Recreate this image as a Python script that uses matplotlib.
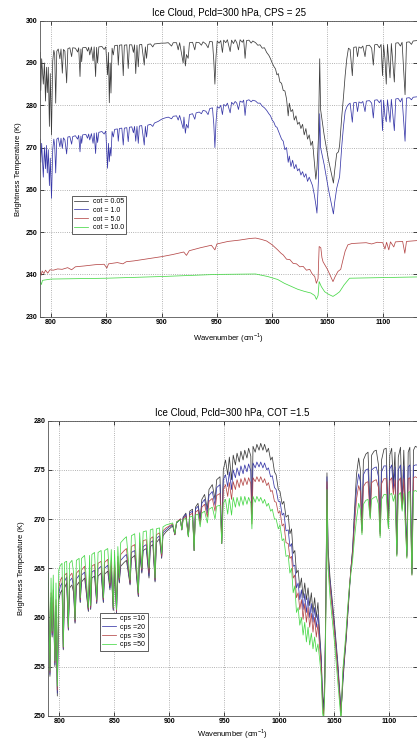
import matplotlib
matplotlib.use("Agg")
import matplotlib.pyplot as plt

# ---- top panel: ice cloud, CPS = 25, four optical thicknesses ----
# wavenumbers shared by the cot = 0.05 and cot = 1.0 curves
wn_thin = [
    790.0, 790.7, 791.5, 793.0, 794.0, 795.0, 795.8, 796.6, 797.5, 798.5,
    799.3, 800.4, 801.5, 802.5, 803.3, 804.2, 805.2, 806.5, 808.0, 809.0,
    810.2, 811.2, 812.5, 814.1, 815.2, 817.0, 818.6, 819.6, 822.0, 824.0,
    825.0, 826.2, 827.0, 827.7, 828.6, 831.5, 833.0, 834.0, 835.0, 836.5,
    838.0, 839.0, 840.3, 841.2, 842.1, 843.2, 846.0, 848.0, 849.5, 851.1,
    851.9, 852.7, 853.5, 854.2, 855.2, 856.3, 857.5, 860.0, 860.8, 861.8,
    864.0, 865.3, 866.3, 868.5, 869.8, 870.9, 873.0, 874.5, 875.5, 876.6,
    877.7, 878.9, 879.9, 882.0, 884.3, 885.3, 886.4, 887.5, 890.0, 892.0,
    893.5, 897.0, 900.0, 903.0, 906.0, 909.0, 910.5, 913.5, 915.0, 916.3,
    919.5, 920.2, 921.5, 922.5, 924.0, 925.2, 928.0, 930.0, 931.2, 934.0,
    936.0, 937.5, 940.0, 942.0, 943.5, 946.0, 947.2, 948.2, 949.2, 950.3,
    952.0, 953.5, 955.0, 956.2, 958.0, 959.5, 962.0, 963.3, 965.0, 966.5,
    968.0, 969.5, 971.0, 973.0, 974.2, 975.5, 976.8, 979.0, 981.0, 982.5,
    985.0, 987.0, 989.0, 991.0, 993.0, 995.0, 997.0, 998.5, 1000.0, 1001.5,
    1003.0, 1004.3, 1005.5, 1007.0, 1008.5, 1010.0, 1011.5, 1013.0, 1014.5, 1015.5,
    1017.0, 1018.5, 1020.0, 1021.5, 1023.0, 1024.5, 1026.0, 1027.5, 1029.0, 1030.5,
    1032.0, 1033.5, 1035.0, 1036.5, 1038.0, 1039.5, 1040.5, 1041.8, 1043.0, 1043.8,
    1047.0, 1051.0, 1055.4, 1056.5, 1058.4, 1060.0, 1061.0, 1063.0, 1064.5, 1066.0,
    1067.5, 1069.0, 1070.5, 1072.5, 1073.8, 1076.0, 1077.2, 1078.5, 1080.5, 1082.0,
    1084.0, 1085.2, 1088.0, 1090.0, 1091.5, 1092.7, 1095.0, 1097.0, 1098.5, 1099.8,
    1100.8, 1102.0, 1103.2, 1104.3, 1106.6, 1107.8, 1110.5, 1111.8, 1114.0, 1116.0,
    1117.5, 1120.2, 1121.5, 1124.0, 1126.0, 1127.5, 1131.0,
]
bt_cot005 = [
    292.5, 283.5, 291.0, 285.0, 290.0, 281.0, 289.0, 283.0, 289.0, 275.0,
    287.5, 273.0, 290.5, 293.0, 292.0, 280.5, 292.8, 293.3, 291.0, 293.3,
    287.6, 293.2, 292.8, 285.3, 293.4, 293.6, 291.5, 293.6, 293.5, 292.6,
    293.6, 286.8, 293.3, 290.3, 293.6, 293.7, 292.8, 293.7, 291.9, 293.8,
    290.5, 293.8, 286.8, 293.7, 290.0, 293.8, 293.9, 293.2, 293.8, 287.2,
    292.5, 280.6, 290.0, 282.9, 293.5, 291.9, 294.1, 294.2, 289.5, 294.2,
    294.3, 287.0, 294.2, 294.3, 288.7, 294.3, 294.3, 292.5, 294.3, 287.5,
    294.2, 289.1, 294.3, 294.4, 289.5, 293.8, 291.1, 294.4, 294.5, 293.8,
    294.5, 294.6, 294.7, 294.7, 294.8, 294.0, 294.8, 294.8, 293.1, 294.8,
    290.0, 294.0, 289.3, 292.0, 291.1, 294.8, 294.9, 293.1, 294.9, 294.8,
    294.2, 295.0, 294.5, 293.6, 295.1, 295.0, 290.5, 285.0, 291.5, 295.2,
    294.7, 295.3, 292.5, 295.4, 294.8, 295.5, 292.7, 295.4, 294.6, 295.5,
    294.8, 293.1, 295.5, 294.9, 295.5, 291.1, 295.3, 295.4, 294.7, 295.2,
    294.8, 294.2, 294.3, 293.5, 293.6, 292.5, 291.8, 291.0, 290.0, 289.2,
    288.6, 287.2, 287.5, 285.5, 285.2, 283.5, 283.4, 281.5, 277.5, 280.5,
    278.5, 279.0, 276.5, 277.5, 275.5, 276.0, 274.5, 275.5, 273.0, 274.5,
    272.0, 273.0, 270.5, 271.5, 267.0, 262.5, 265.0, 272.0, 291.0, 279.0,
    273.0, 267.0, 261.6, 264.5, 268.6, 269.0, 270.5, 277.5, 282.0, 287.0,
    291.0, 293.5, 293.2, 287.0, 293.7, 293.8, 291.5, 293.8, 293.5, 294.0,
    291.5, 294.1, 294.2, 293.5, 289.5, 294.3, 294.4, 293.6, 294.4, 287.0,
    294.3, 291.0, 285.0, 294.4, 286.5, 294.6, 285.5, 294.7, 294.8, 294.0,
    294.9, 282.5, 294.9, 295.0, 294.4, 295.2, 295.3,
]
bt_cot1 = [
    272.0, 266.5, 271.0, 263.0, 270.0, 265.0, 270.5, 264.0, 269.5, 261.0,
    267.5, 258.0, 269.5, 272.0, 270.5, 264.0, 272.0, 272.3, 270.2, 272.2,
    269.8, 272.3, 271.8, 268.5, 272.5, 272.6, 270.8, 272.6, 272.8, 272.0,
    272.9, 269.0, 272.7, 271.0, 273.0, 273.1, 272.2, 273.2, 271.8, 273.3,
    271.0, 273.4, 268.6, 273.5, 271.2, 273.6, 273.8, 273.2, 273.9, 265.1,
    271.0, 266.7, 270.0, 268.0, 273.8, 272.5, 274.3, 274.4, 271.5, 274.5,
    274.6, 270.6, 274.6, 274.7, 271.4, 274.8, 274.9, 273.5, 275.0, 271.5,
    275.0, 271.0, 275.1, 275.2, 270.6, 275.0, 272.5, 275.3, 275.5, 275.0,
    275.8, 276.2, 276.7, 277.0, 277.2, 276.8, 277.4, 277.5, 276.5, 277.6,
    274.5, 277.2, 273.4, 275.5, 274.6, 277.8, 278.0, 276.7, 278.2, 278.4,
    278.0, 278.8, 278.6, 277.8, 279.2, 279.4, 275.5, 270.0, 276.0, 279.7,
    279.3, 280.0, 277.8, 280.2, 279.8, 280.5, 278.2, 280.7, 280.2, 280.9,
    280.5, 279.0, 281.0, 280.7, 281.2, 277.6, 281.1, 281.3, 280.8, 281.2,
    281.0, 280.5, 280.5, 279.8, 279.4, 278.8, 278.0, 277.5, 276.5, 276.0,
    275.0, 274.8, 274.0, 273.0, 272.0, 271.5, 269.5, 270.0, 266.5, 268.0,
    265.5, 267.0, 265.0, 266.0, 264.5, 265.0, 263.5, 264.3, 263.0, 263.8,
    262.0, 263.0, 262.0, 261.0, 259.0, 256.5, 254.5, 262.0, 278.0, 270.0,
    266.0, 260.0, 254.3, 257.0, 260.4, 262.0, 263.1, 270.5, 275.0, 278.5,
    279.6, 280.2, 280.5, 276.0, 280.6, 280.7, 278.5, 280.8, 280.5, 280.9,
    278.5, 281.0, 281.1, 280.5, 277.0, 281.2, 281.3, 280.6, 281.3, 274.0,
    281.2, 277.5, 276.1, 281.3, 276.0, 281.4, 274.0, 281.5, 281.6, 280.8,
    281.7, 271.5, 281.7, 281.8, 281.3, 281.9, 282.0,
]

wn_cot5 = [
    790.0, 791.0, 792.0, 793.5, 795.0, 797.0, 799.0, 802.0, 806.0, 810.0,
    815.0, 818.6, 822.0, 830.0, 840.0, 848.0, 850.5, 852.0, 860.0, 865.0,
    868.0, 875.0, 880.0, 890.0, 900.0, 910.0, 920.0, 922.5, 925.0, 935.0,
    945.0, 948.2, 950.0, 960.0, 970.0, 980.0, 985.0, 990.0, 995.0, 1000.0,
    1005.0, 1008.0, 1010.0, 1013.0, 1016.0, 1019.0, 1022.0, 1025.0, 1028.0, 1031.0,
    1034.0, 1036.0, 1038.5, 1040.0, 1041.5, 1042.5, 1044.0, 1045.0, 1046.0, 1050.0,
    1055.0, 1057.0, 1059.5, 1062.0, 1064.0, 1066.0, 1068.5, 1072.0, 1078.0, 1085.0,
    1090.0, 1095.0, 1100.0, 1102.0, 1103.5, 1105.5, 1107.0, 1110.0, 1111.5, 1118.0,
    1120.0, 1121.5, 1131.0,
]
bt_cot5 = [
    240.6, 239.8, 240.8, 240.2, 241.0, 240.3, 241.1, 241.0, 241.3, 241.2,
    241.6, 241.1, 241.8, 242.0, 242.3, 242.4, 241.5, 242.5, 242.8, 242.5,
    243.0, 243.2, 243.4, 243.8, 244.2, 244.7, 245.3, 244.5, 245.6, 246.3,
    246.9, 245.8, 247.2, 247.8, 248.1, 248.5, 248.6, 248.3, 247.9, 247.0,
    245.8, 245.0, 244.6, 243.6, 243.5, 242.6, 242.5, 241.8, 241.9, 241.0,
    241.2, 240.2, 239.5, 237.9, 239.0, 246.6, 246.3, 244.0, 243.0, 241.2,
    238.3, 239.5, 240.7, 241.2, 243.4, 245.5, 247.0, 247.3, 247.4, 247.5,
    247.2, 247.6, 247.5, 246.0, 247.6, 245.8, 247.7, 246.5, 247.7, 247.8,
    245.0, 247.8, 248.0,
]

wn_cot10 = [
    790.0, 791.2, 792.3, 800.0, 850.0, 900.0, 930.0, 950.0, 985.0, 996.0,
    1005.0, 1011.0, 1017.0, 1023.0, 1029.0, 1035.0, 1038.5, 1040.0, 1041.5, 1042.5,
    1044.5, 1047.5, 1051.0, 1055.0, 1058.0, 1061.0, 1065.0, 1070.0, 1090.0, 1110.0,
    1131.0,
]
bt_cot10 = [
    238.7, 237.6, 238.6, 238.9, 239.1, 239.5, 239.8, 240.0, 240.1, 239.5,
    238.8, 237.9, 237.2, 236.5, 236.0, 235.6, 235.0, 234.1, 235.0, 238.3,
    237.1, 235.9, 235.3, 234.8, 235.3, 235.9, 237.5, 239.1, 239.2, 239.3,
    239.4,
]

# ---- bottom panel: ice cloud, COT = 1.5, four particle sizes ----
wn_cps = [
    790.0, 791.5, 792.5, 793.5, 794.5, 796.0, 797.0, 798.2, 799.5, 801.0,
    802.5, 803.6, 804.8, 806.7, 808.2, 809.4, 811.5, 813.0, 814.3, 815.5,
    818.0, 819.0, 820.2, 823.0, 826.4, 827.5, 828.5, 829.6, 832.0, 834.0,
    835.2, 838.0, 840.0, 841.2, 844.0, 846.0, 847.2, 849.0, 850.2, 852.0,
    853.2, 854.5, 855.8, 859.0, 861.0, 864.3, 865.5, 868.5, 871.8, 873.0,
    875.0, 876.2, 879.0, 881.5, 882.7, 885.0, 887.0, 888.2, 891.0, 893.0,
    894.2, 897.0, 900.0, 903.0, 905.0, 906.5, 910.0, 911.3, 912.5, 915.0,
    917.3, 918.5, 921.0, 922.5, 923.7, 926.0, 928.0, 929.5, 932.0, 934.5,
    936.0, 939.0, 941.5, 943.0, 946.0, 947.6, 949.0, 951.0, 953.0, 954.5,
    956.5, 958.0, 960.0, 961.5, 963.5, 965.0, 967.0, 968.5, 970.5, 972.0,
    974.0, 975.0, 976.0, 978.0, 979.5, 981.5, 983.0, 985.0, 986.5, 988.5,
    990.0, 992.0, 993.5, 995.5, 997.0, 999.0, 1000.5, 1002.5, 1004.0, 1006.0,
    1008.0, 1009.5, 1011.0, 1012.5, 1014.0, 1015.5, 1017.0, 1018.5, 1020.0, 1021.5,
    1023.0, 1024.5, 1026.0, 1027.5, 1029.0, 1030.5, 1032.0, 1033.5, 1035.0, 1036.5,
    1038.0, 1039.2, 1040.2, 1041.2, 1042.2, 1043.2, 1044.2, 1046.0, 1050.0, 1053.0,
    1056.0, 1057.5, 1059.0, 1060.5, 1062.0, 1063.5, 1065.0, 1066.5, 1068.0, 1070.0,
    1072.0, 1073.5, 1075.0, 1076.3, 1078.5, 1080.5, 1082.5, 1083.8, 1086.0, 1088.0,
    1090.0, 1091.5, 1092.8, 1095.0, 1097.0, 1099.0, 1100.3, 1102.0, 1103.5, 1105.0,
    1106.7, 1108.0, 1110.0, 1111.5, 1113.0, 1115.8, 1117.0, 1118.5, 1120.4, 1121.8,
    1123.5, 1125.0,
]
bt_cps10 = [
    262.5, 254.0, 261.5, 258.0, 261.5, 255.0, 260.5, 252.0, 261.8, 262.5,
    262.8, 256.7, 263.0, 263.5, 258.7, 263.0, 263.3, 262.5, 259.4, 263.2,
    263.6, 261.5, 263.6, 264.0, 260.6, 263.8, 260.8, 264.0, 264.2, 261.4,
    264.2, 264.5, 261.5, 264.4, 264.7, 262.8, 264.6, 260.7, 264.8, 260.4,
    265.0, 263.5, 265.2, 265.6, 265.8, 263.3, 266.0, 266.3, 262.1, 266.5,
    264.5, 266.8, 267.0, 264.0, 267.2, 267.4, 263.6, 267.6, 268.0, 266.0,
    268.3, 268.7, 269.0, 269.3, 268.4, 269.6, 270.0, 268.9, 270.2, 270.6,
    268.2, 270.8, 271.0, 266.8, 271.2, 271.6, 270.0, 272.0, 272.5, 271.0,
    273.0, 273.5, 272.0, 274.0, 274.3, 267.5, 275.0, 276.0, 274.5, 276.3,
    274.0, 276.5, 275.5, 276.7, 275.8, 276.9, 276.0, 277.0, 276.2, 277.2,
    276.4, 270.5, 277.4, 276.8, 277.6, 277.0, 277.7, 277.0, 277.6, 276.8,
    277.2, 276.0, 276.3, 274.8, 274.5, 273.0, 272.8, 271.5, 271.8, 270.2,
    270.4, 268.5, 269.0, 266.5, 266.8, 264.5, 264.8, 263.0, 264.0, 262.0,
    263.5, 261.8, 263.0, 261.2, 262.5, 260.5, 262.0, 260.0, 261.5, 258.5,
    256.0, 252.0, 251.0, 254.0, 262.0, 274.7, 267.0, 264.0, 259.5, 255.5,
    250.5, 253.0, 255.5, 257.5, 260.0, 262.5, 265.0, 267.0, 270.5, 274.5,
    276.2, 275.0, 269.0, 276.0, 276.6, 276.8, 270.5, 276.5, 276.9, 277.0,
    275.5, 268.7, 276.0, 277.1, 277.2, 269.5, 276.5, 277.2, 273.5, 276.8,
    266.5, 276.3, 277.3, 271.5, 277.0, 266.3, 276.8, 277.3, 264.5, 277.0,
    277.4, 277.3,
]
bt_cps20 = [
    263.0, 254.2, 262.0, 258.2, 262.2, 255.2, 261.2, 252.3, 262.4, 263.2,
    263.5, 256.8, 263.7, 264.1, 258.8, 263.7, 264.0, 263.0, 259.5, 263.9,
    264.3, 261.6, 264.3, 264.6, 260.7, 264.5, 260.9, 264.6, 264.8, 261.5,
    264.9, 265.2, 261.6, 265.0, 265.3, 263.0, 265.2, 260.8, 265.5, 260.5,
    265.6, 263.6, 265.8, 266.2, 266.4, 263.4, 266.6, 266.8, 262.2, 267.0,
    264.6, 267.2, 267.4, 264.2, 267.6, 267.8, 263.7, 268.0, 268.3, 266.1,
    268.6, 268.9, 269.2, 269.4, 268.4, 269.6, 270.0, 268.9, 270.1, 270.5,
    268.2, 270.6, 270.8, 266.8, 271.0, 271.3, 269.8, 271.6, 272.0, 270.6,
    272.4, 272.8, 271.4, 273.2, 273.5, 267.5, 274.0, 274.5, 273.3, 274.8,
    273.0, 275.0, 274.2, 275.2, 274.4, 275.4, 274.6, 275.5, 274.8, 275.6,
    274.9, 270.0, 275.7, 275.2, 275.8, 275.3, 275.8, 275.2, 275.7, 275.0,
    275.2, 274.3, 274.4, 273.2, 273.0, 271.8, 271.8, 270.4, 270.6, 268.8,
    268.9, 267.2, 267.5, 265.2, 265.3, 263.0, 263.5, 261.8, 262.8, 260.8,
    262.4, 260.5, 262.0, 260.0, 261.4, 259.5, 261.0, 259.0, 260.3, 257.8,
    255.5, 251.5, 250.5, 253.5, 261.5, 274.3, 266.5, 263.5, 259.0, 255.0,
    250.3, 253.5, 255.8, 257.8, 260.3, 262.8, 265.0, 266.8, 269.8, 273.0,
    274.6, 273.8, 268.8, 274.5, 275.0, 275.1, 270.3, 275.0, 275.2, 275.3,
    274.3, 268.5, 274.8, 275.4, 275.4, 269.3, 275.1, 275.5, 273.0, 275.3,
    266.4, 275.0, 275.5, 271.2, 275.4, 266.2, 275.3, 275.5, 264.4, 275.4,
    275.5, 275.5,
]
bt_cps30 = [
    263.5, 254.4, 262.5, 258.4, 262.8, 255.4, 261.8, 252.6, 263.0, 263.8,
    264.1, 256.9, 264.3, 264.5, 258.9, 264.2, 264.5, 263.5, 259.6, 264.5,
    264.8, 261.8, 264.8, 265.2, 260.8, 265.0, 261.0, 265.2, 265.4, 261.6,
    265.5, 265.7, 261.8, 265.6, 265.9, 263.2, 265.8, 260.9, 266.0, 260.6,
    266.2, 263.8, 266.4, 266.8, 267.0, 263.5, 267.2, 267.4, 262.3, 267.6,
    264.8, 267.8, 267.9, 264.5, 268.0, 268.2, 263.8, 268.4, 268.6, 266.2,
    268.8, 269.1, 269.3, 269.5, 268.4, 269.7, 270.0, 268.9, 270.0, 270.3,
    268.2, 270.4, 270.6, 266.8, 270.7, 270.9, 269.5, 271.2, 271.5, 270.2,
    271.8, 272.1, 270.8, 272.4, 272.6, 267.5, 273.0, 273.5, 272.3, 273.7,
    272.0, 273.8, 273.0, 274.0, 273.2, 274.1, 273.4, 274.2, 273.5, 274.2,
    273.6, 269.5, 274.2, 273.8, 274.3, 273.8, 274.3, 273.7, 274.1, 273.4,
    273.7, 272.8, 272.9, 271.8, 271.7, 270.6, 270.8, 269.3, 269.5, 267.6,
    267.5, 266.0, 266.2, 264.0, 264.3, 262.0, 262.5, 260.8, 261.8, 259.8,
    261.4, 259.5, 261.0, 259.0, 260.4, 258.5, 260.0, 258.0, 259.3, 257.0,
    255.0, 251.0, 250.0, 253.0, 261.0, 273.8, 266.0, 263.0, 258.5, 254.5,
    250.0, 254.0, 256.0, 258.0, 260.5, 263.0, 265.0, 266.5, 269.0, 272.0,
    273.4, 272.8, 268.6, 273.3, 273.7, 273.8, 270.1, 273.7, 273.9, 274.0,
    273.2, 268.3, 273.6, 274.1, 274.1, 269.1, 273.9, 274.2, 272.5, 274.0,
    266.3, 273.8, 274.2, 271.0, 274.1, 266.1, 274.1, 274.2, 264.3, 274.2,
    274.3, 274.2,
]
bt_cps50 = [
    264.5, 254.6, 264.0, 258.6, 264.3, 255.6, 263.5, 253.0, 264.8, 265.3,
    265.5, 257.0, 265.6, 265.7, 259.0, 265.5, 265.8, 264.5, 259.8, 265.8,
    266.0, 262.0, 266.0, 266.3, 261.0, 266.3, 261.2, 266.4, 266.6, 261.8,
    266.6, 266.8, 262.0, 266.8, 267.0, 263.5, 266.9, 261.0, 266.8, 260.8,
    267.2, 264.0, 267.6, 268.0, 268.2, 263.8, 268.3, 268.5, 262.5, 268.6,
    265.0, 268.7, 268.8, 265.0, 268.9, 269.0, 264.0, 269.0, 269.1, 266.5,
    269.2, 269.4, 269.5, 269.6, 268.5, 269.7, 269.9, 268.9, 269.9, 270.1,
    268.2, 270.2, 270.3, 266.8, 270.4, 270.5, 269.2, 270.6, 270.8, 269.6,
    271.0, 271.2, 270.0, 271.3, 271.4, 267.5, 271.6, 272.0, 270.5, 272.1,
    270.4, 272.2, 271.2, 272.2, 271.3, 272.3, 271.4, 272.3, 271.5, 272.2,
    271.6, 269.0, 272.3, 271.7, 272.3, 271.8, 272.2, 271.6, 272.0, 271.3,
    271.6, 270.8, 271.0, 270.0, 270.0, 269.0, 269.4, 267.8, 268.0, 266.2,
    266.3, 264.5, 265.0, 262.5, 263.2, 260.5, 261.0, 259.2, 260.0, 258.2,
    259.5, 257.5, 259.0, 257.2, 258.4, 256.8, 258.0, 256.5, 257.3, 255.8,
    254.0, 250.3, 249.5, 252.5, 260.0, 273.0, 265.0, 262.0, 257.5, 253.5,
    249.5, 254.5, 256.5, 258.5, 261.0, 263.0, 264.5, 265.8, 267.8, 270.0,
    271.6, 271.0, 268.4, 271.5, 271.9, 272.0, 270.0, 272.0, 272.2, 272.3,
    271.5, 268.1, 272.0, 272.5, 272.5, 269.0, 272.5, 272.6, 271.8, 272.5,
    266.2, 272.4, 272.7, 270.8, 272.6, 266.0, 272.7, 272.8, 264.3, 272.8,
    272.9, 272.8,
]

top_labels = ["cot = 0.05", "cot = 1.0", "cot = 5.0", "cot = 10.0"]
bot_labels = ["cps =10", "cps =20", "cps =30", "cps =50"]
colors = ["#3c3c3c", "#3838a8", "#b54848", "#48d848"]

plt.rcParams["font.family"] = ["Liberation Sans", "DejaVu Sans"]
plt.rcParams["mathtext.fontset"] = "custom"
plt.rcParams["mathtext.rm"] = "Liberation Sans"


def style_axes(ax, yticks):
    ax.set_yticks(yticks)
    ax.set_xticks([800, 850, 900, 950, 1000, 1050, 1100])
    ax.grid(True, linestyle=":", color="#9a9a9a", linewidth=0.6)
    ax.tick_params(direction="in", length=3, width=0.5, labelsize=5,
                   top=True, right=True, pad=2)
    for lab in ax.get_xticklabels() + ax.get_yticklabels():
        lab.set_fontweight("bold")
    for sp in ax.spines.values():
        sp.set_linewidth(0.6)
        sp.set_color("#555555")
    ax.set_xlabel(r"Wavenumber (cm$^{-1}$)", fontsize=5.5)
    ax.set_ylabel("Brightness Temperature (K)", fontsize=5.5)


fig = plt.figure(figsize=(4.17, 7.40), dpi=100)

ax1 = fig.add_axes([40 / 417, 1 - 316.7 / 740, 377 / 417, 296 / 740])
lw = 0.55
ax1.plot(wn_thin, bt_cot005, color=colors[0], lw=lw, label=top_labels[0])
ax1.plot(wn_thin, bt_cot1, color=colors[1], lw=lw, label=top_labels[1])
ax1.plot(wn_cot5, bt_cot5, color=colors[2], lw=lw, label=top_labels[2])
ax1.plot(wn_cot10, bt_cot10, color=colors[3], lw=lw, label=top_labels[3])
ax1.set_xlim(790, 1131)
ax1.set_ylim(230, 300)
style_axes(ax1, range(230, 301, 10))
ax1.set_title("Ice Cloud, Pcld=300 hPa, CPS = 25", fontsize=7, pad=4)
ax1.yaxis.set_label_coords(-0.049, 0.5)
ax1.xaxis.set_label_coords(0.5, -0.048)
leg1 = ax1.legend(loc="upper left", bbox_to_anchor=(0.085, 0.409),
                  borderaxespad=0, fontsize=5, fancybox=False,
                  edgecolor="#444444", framealpha=1, handlelength=2.0,
                  handletextpad=0.6, labelspacing=0.25, borderpad=0.35)
leg1.get_frame().set_linewidth(0.6)

ax2 = fig.add_axes([48.3 / 417, 1 - 715.7 / 740, 368.7 / 417, 295 / 740])
ax2.plot(wn_cps, bt_cps10, color=colors[0], lw=lw, label=bot_labels[0])
ax2.plot(wn_cps, bt_cps20, color=colors[1], lw=lw, label=bot_labels[1])
ax2.plot(wn_cps, bt_cps30, color=colors[2], lw=lw, label=bot_labels[2])
ax2.plot(wn_cps, bt_cps50, color=colors[3], lw=lw, label=bot_labels[3])
ax2.set_xlim(790, 1125)
ax2.set_ylim(250, 280)
style_axes(ax2, range(250, 281, 5))
ax2.set_title("Ice Cloud, Pcld=300 hPa, COT =1.5", fontsize=7, pad=4)
ax2.yaxis.set_label_coords(-0.063, 0.5)
ax2.xaxis.set_label_coords(0.5, -0.038)
leg2 = ax2.legend(loc="upper left", bbox_to_anchor=(0.140, 0.349),
                  borderaxespad=0, fontsize=5, fancybox=False,
                  edgecolor="#444444", framealpha=1, handlelength=2.0,
                  handletextpad=0.6, labelspacing=0.25, borderpad=0.35)
leg2.get_frame().set_linewidth(0.6)

fig.savefig("out.png", dpi=100)
